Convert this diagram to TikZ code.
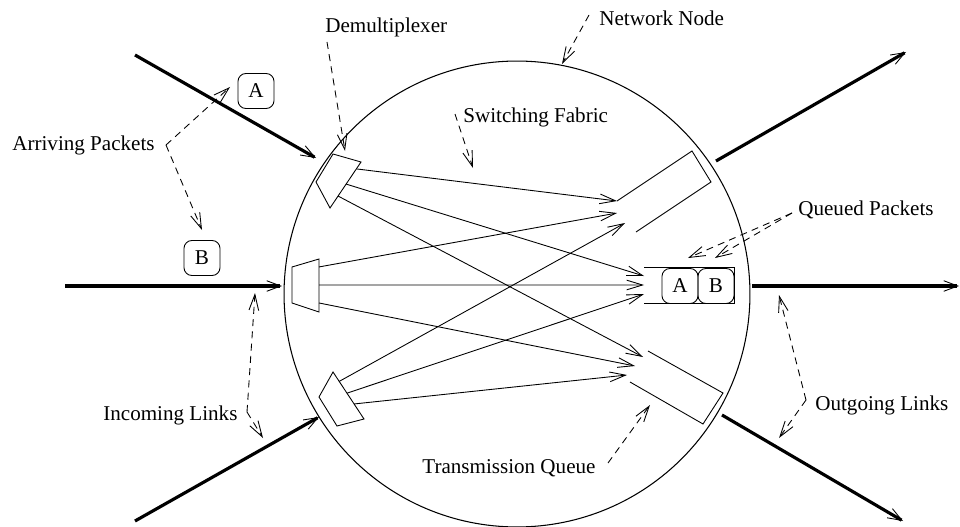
\documentclass[tikz,border=0pt]{standalone}
\usepackage{fontspec}
\setmainfont{Liberation Serif}
\usepackage{tikz}
\usetikzlibrary{arrows.meta,calc}

\tikzset{
  vee/.style={-{Straight Barb[line width=0.5pt,length=9pt,width=5.5pt]}},
  link/.style={line width=1.8pt,-{Straight Barb[line width=0.5pt,length=8pt,width=6pt]}},
  flow/.style={line width=0.5pt,vee},
  note/.style={line width=0.5pt,dash pattern=on 4pt off 3pt,vee},
  lbl/.style={inner sep=0pt,font=\fontsize{12}{14}\selectfont},
  pkt/.style={draw,line width=0.5pt,rounded corners=4.5pt,minimum width=0.72cm,minimum height=0.7cm,inner sep=0pt,font=\fontsize{12}{14}\selectfont}
}

\begin{document}
\begin{tikzpicture}[x=0.02cm,y=-0.02cm]
        \useasboundingbox (0,0) rectangle (960,527);
        % the network node
        \node [circle,draw,line width=0.6pt,minimum size=9.32cm,inner sep=0pt] (nn) at (517,294) {};
        % incoming and outgoing links
        \coordinate (in1) at (135,55);   \coordinate (in1e) at (316,158);
        \coordinate (in2) at (65,286);   \coordinate (in2e) at (282,286);
        \coordinate (in3) at (135,521);  \coordinate (in3e) at (319,417);
        \coordinate (out1) at (716,161); \coordinate (out1e) at (906,52);
        \coordinate (out2) at (752,286); \coordinate (out2e) at (959,286);
        \coordinate (out3) at (722,415); \coordinate (out3e) at (903,521);
        \draw [link] (in1) -- (in1e);
        \draw [link] (in2) -- (in2e);
        \draw [link] (in3) -- (in3e);
        \draw [link] (out1) -- (out1e);
        \draw [link] (out2) -- (out2e);
        \draw [link] (out3) -- (out3e);
        % demultiplexers
        \draw [line width=0.5pt] (316,182) -- (333,154) -- (361,162) coordinate (d1b) -- (330,208) coordinate (d1c) -- cycle;
        \draw [line width=0.5pt] (292,303) -- (292,267) -- (319,259) coordinate (d2b) -- (319,312) coordinate (d2c) -- cycle;
        \draw [line width=0.5pt] (337,426) -- (319,397) -- (333,372) coordinate (d3b) -- (364,419) coordinate (d3c) -- cycle;
        \coordinate (d1p1) at ($(d1b)!0.15!(d1c)$);
        \coordinate (d1p2) at ($(d1b)!0.48!(d1c)$);
        \coordinate (d1p3) at ($(d1b)!0.74!(d1c)$);
        \coordinate (d2p1) at ($(d2b)!0.15!(d2c)$);
        \coordinate (d2p2) at ($(d2b)!0.49!(d2c)$);
        \coordinate (d2p3) at ($(d2b)!0.83!(d2c)$);
        \coordinate (d3p1) at ($(d3b)!0.2!(d3c)$);
        \coordinate (d3p2) at ($(d3b)!0.45!(d3c)$);
        \coordinate (d3p3) at ($(d3b)!0.68!(d3c)$);
        % transmission queues
        \draw [line width=0.5pt] (617,201) -- (692,151) -- (711,182) -- (636,232);
        \draw [line width=0.5pt] (644,267) -- (734,267) -- (734,303) -- (644,303);
        \draw [line width=0.5pt] (648,351) -- (723,393) -- (703,424) -- (630,382);
        \coordinate (q1t1) at (617,201); \coordinate (q1t2) at (617,213); \coordinate (q1t3) at (625,223);
        \coordinate (q2t1) at (644,276); \coordinate (q2t2) at (644,285); \coordinate (q2t3) at (644,294);
        \coordinate (q3t1) at (643,357); \coordinate (q3t2) at (635,366); \coordinate (q3t3) at (627,375);
        % switching fabric
        \draw [flow] (d1p1) -- (q1t1);
        \draw [flow] (d1p2) -- (q2t1);
        \draw [flow] (d1p3) -- (q3t1);
        \draw [flow] (d2p1) -- (q1t2);
        \draw [flow] (d2p2) -- (q2t2);
        \draw [flow] (d2p3) -- (q3t2);
        \draw [flow] (d3p1) -- (q1t3);
        \draw [flow] (d3p2) -- (q2t3);
        \draw [flow] (d3p3) -- (q3t3);
        % packets
        \node [pkt] (pa) at (256,91) {A};
        \node [pkt] (pb) at (202,258) {B};
        \node [pkt] (qa) at (680,286) {A};
        \node [pkt] (qb) at (716,286) {B};
        % labels
        \node [lbl,anchor=west] (lnet) at (599,18) {Network Node};
        \node [lbl,anchor=west] (ldmx) at (325,27) {Demultiplexer};
        \node [lbl,anchor=west] (lfab) at (463,117) {Switching Fabric};
        \node [lbl,anchor=west] (larr) at (12,145) {Arriving Packets};
        \node [lbl,anchor=west] (lque) at (798,210) {Queued Packets};
        \node [lbl,anchor=west] (lin) at (103,415) {Incoming Links};
        \node [lbl,anchor=west] (lout) at (815,405) {Outgoing Links};
        \node [lbl,anchor=west] (ltx) at (422,468) {Transmission Queue};
        % pointers
        \coordinate (cnet) at (589,15);  \coordinate (cnete) at (562,64);
        \coordinate (cdmx) at (327,42);  \coordinate (cdmxe) at (345,151);
        \coordinate (cfab) at (455,114); \coordinate (cfabe) at (473,168);
        \coordinate (carr) at (166,145); \coordinate (carra) at (230,87); \coordinate (carrb) at (202,230);
        \coordinate (cque) at (792,213); \coordinate (cquea) at (688,258); \coordinate (cqueb) at (715,258);
        \coordinate (cin) at (247,412);  \coordinate (cina) at (255,293); \coordinate (cinb) at (263,438);
        \coordinate (cout) at (806,400); \coordinate (couta) at (779,295); \coordinate (coutb) at (779,438);
        \coordinate (ctx) at (608,463);  \coordinate (ctxe) at (650,405);
        \draw [note] (cnet) -- (cnete);
        \draw [note] (cdmx) -- (cdmxe);
        \draw [note] (cfab) -- (cfabe);
        \draw [note] (carr) -- (carra);
        \draw [note] (carr) -- (carrb);
        \draw [note] (cque) -- (cquea);
        \draw [note] (cque) -- (cqueb);
        \draw [note] (cin) -- (cina);
        \draw [note] (cin) -- (cinb);
        \draw [note] (cout) -- (couta);
        \draw [note] (cout) -- (coutb);
        \draw [note] (ctx) -- (ctxe);
\end{tikzpicture}
\end{document}
